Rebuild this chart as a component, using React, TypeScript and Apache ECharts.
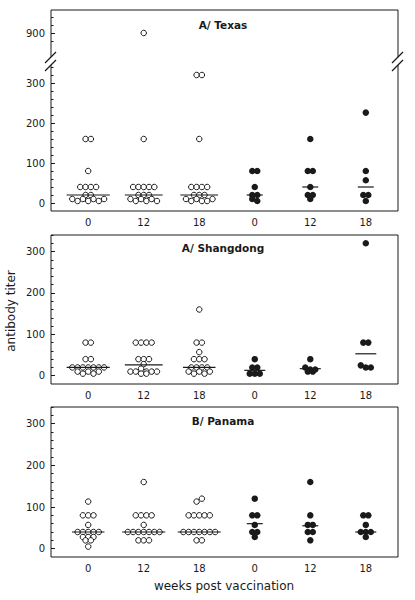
import React, { useEffect, useRef } from "react";
import * as echarts from "echarts";

// ---------- data ----------
const weekLabels = ["0", "12", "18", "0", "12", "18"];
const panelTitles = ["A/ Texas", "A/ Shangdong", "B/ Panama"];
const yTickValues = [0, 100, 200, 300];
const texasUpperTicks = [900];
const texasUpperMinor = [880, 920, 940];

// A/Texas (open = groups 0..2, filled = groups 3..5)
const texasOpen0 = [160, 160, 80, 40, 40, 40, 40, 20, 20, 10, 5, 10, 5, 10, 5, 10];
const texasOpen12 = [900, 160, 40, 40, 40, 40, 40, 20, 20, 20, 10, 5, 10, 5, 10, 5];
const texasOpen18 = [320, 320, 160, 40, 40, 40, 40, 20, 20, 20, 10, 5, 10, 5, 5, 10];
const texasFilled0 = [80, 80, 40, 20, 20, 10, 5];
const texasFilled12 = [160, 80, 80, 40, 20, 20, 10];
const texasFilled18 = [226, 80, 57, 20, 20, 5];
const texasMedians = [20, 20, 20, 20, 40, 40];

// A/Shangdong
const shanOpen0 = [80, 80, 40, 40, 20, 20, 20, 20, 20, 20, 20, 10, 5, 10, 5, 10];
const shanOpen12 = [80, 80, 80, 80, 40, 40, 40, 28, 10, 10, 5, 17, 10, 5, 10, 10];
const shanOpen18 = [160, 80, 80, 57, 40, 40, 40, 20, 20, 20, 20, 10, 5, 10, 5, 10];
const shanFilled0 = [40, 20, 20, 5, 5, 5];
const shanFilled12 = [40, 20, 15, 15, 10, 10];
const shanFilled18 = [320, 80, 80, 25, 20, 20];
const shanMedians = [20, 26, 20, 13, 17, 53];

// B/Panama
const panOpen0 = [113, 80, 80, 80, 57, 40, 40, 40, 40, 40, 28, 28, 28, 20, 20, 5];
const panOpen12 = [160, 80, 80, 80, 80, 57, 40, 40, 40, 40, 40, 40, 40, 20, 20, 20];
const panOpen18 = [113, 120, 80, 80, 80, 80, 80, 40, 40, 40, 40, 40, 40, 40, 20, 20];
const panFilled0 = [120, 80, 80, 57, 40, 40, 28];
const panFilled12 = [160, 80, 57, 57, 40, 40, 20];
const panFilled18 = [80, 80, 57, 40, 40, 40, 28];
const panMedians = [40, 40, 40, 60, 55, 40];

// ---------- layout ----------
const GRID_LEFT = 51;
const GRID_W = 347;
const X_MIN = -0.67;
const X_MAX = 5.58;
const X_PX = GRID_W / (X_MAX - X_MIN);
const FONT = "DejaVu Sans";
const INK = "#1a1a1a";

const grids = [
  { top: 10, height: 201, min: -20, max: 482.5 },
  { top: 235, height: 149, min: -20, max: 340 },
  { top: 407, height: 150, min: -20, max: 340 },
];

// broken axis for Texas: values above the break are shifted down
const BREAK_SHIFT = 475;
const tx = (v: number) => (v > 400 ? v - BREAK_SHIFT : v);

function swarm(values: number[], group: number, yPx: number, spacingPx: number, tf: (v: number) => number) {
  const idx = values.map((_, i) => i).sort((a, b) => values[b] - values[a] || a - b);
  const rows: number[][] = [];
  for (const i of idx) {
    const last = rows[rows.length - 1];
    if (last && (values[last[0]] - values[i]) * yPx < 3) last.push(i);
    else rows.push([i]);
  }
  const pts: number[][] = [];
  let widest = 1;
  rows.forEach((r) => {
    r.sort((a, b) => a - b);
    widest = Math.max(widest, r.length);
    r.forEach((i, k) => {
      pts.push([group + ((k - (r.length - 1) / 2) * spacingPx) / X_PX, tf(values[i])]);
    });
  });
  return { pts, widest };
}

const panels = [
  { open: [texasOpen0, texasOpen12, texasOpen18], filled: [texasFilled0, texasFilled12, texasFilled18], medians: texasMedians, tf: tx },
  { open: [shanOpen0, shanOpen12, shanOpen18], filled: [shanFilled0, shanFilled12, shanFilled18], medians: shanMedians, tf: (v: number) => v },
  { open: [panOpen0, panOpen12, panOpen18], filled: [panFilled0, panFilled12, panFilled18], medians: panMedians, tf: (v: number) => v },
];

const OPEN_SP = 5.3;
const FILL_SP = 5.0;

function buildOption() {
  const grid: any[] = [];
  const xAxis: any[] = [];
  const yAxis: any[] = [];
  const series: any[] = [];

  grids.forEach((g, i) => {
    grid.push({
      left: GRID_LEFT,
      top: g.top,
      width: GRID_W,
      height: g.height,
      show: true,
      borderColor: INK,
      borderWidth: 1,
      backgroundColor: "transparent",
    });
    xAxis.push({
      type: "value",
      gridIndex: i,
      position: "bottom",
      min: X_MIN,
      max: X_MAX,
      axisLine: { show: false, onZero: false },
      axisTick: { show: false },
      splitLine: { show: false },
      axisLabel: {
        customValues: [0, 1, 2, 3, 4, 5],
        formatter: (v: number) => weekLabels[Math.round(v)],
        margin: 6,
        fontSize: 10,
        fontFamily: FONT,
        color: INK,
      },
    });
    const majors = i === 0 ? [...yTickValues, ...texasUpperTicks.map(tx)] : yTickValues;
    const minors: number[] = [];
    for (let v = 20; v <= 340; v += 20) if (v % 100 !== 0) minors.push(v);
    if (i === 0) texasUpperMinor.forEach((v) => minors.push(tx(v)));
    yAxis.push({
      type: "value",
      gridIndex: i,
      position: "left",
      min: g.min,
      max: g.max,
      axisLine: { show: false, onZero: false },
      splitLine: { show: false },
      axisTick: { show: true, inside: true, length: 4, customValues: majors, lineStyle: { color: INK } },
      axisLabel: {
        customValues: majors,
        formatter: (v: number) => String(v > 400 ? v + BREAK_SHIFT : v),
        margin: 6,
        fontSize: 10,
        fontFamily: FONT,
        color: INK,
      },
    });
    yAxis.push({
      type: "value",
      gridIndex: i,
      position: "left",
      offset: 0,
      min: g.min,
      max: g.max,
      axisLine: { show: false, onZero: false },
      splitLine: { show: false },
      axisLabel: { show: false },
      axisTick: { show: true, inside: true, length: 2.5, customValues: minors, lineStyle: { color: INK } },
    });
  });

  panels.forEach((p, i) => {
    const yPx = grids[i].height / (grids[i].max - grids[i].min);
    const openPts: number[][] = [];
    const fillPts: number[][] = [];
    const medData: number[][] = [];
    p.open.forEach((vals, gi) => {
      const s = swarm(vals, gi, yPx, OPEN_SP, p.tf);
      openPts.push(...s.pts);
      const hw = Math.max(7, (s.widest * OPEN_SP) / 2 + 3) / X_PX;
      medData.push([gi, p.tf(p.medians[gi]), hw]);
    });
    p.filled.forEach((vals, k) => {
      const gi = k + 3;
      const s = swarm(vals, gi, yPx, FILL_SP, p.tf);
      fillPts.push(...s.pts);
      const hw = Math.max(7, (s.widest * FILL_SP) / 2 + 3) / X_PX;
      medData.push([gi, p.tf(p.medians[gi]), hw]);
    });
    series.push({
      type: "scatter",
      xAxisIndex: i,
      yAxisIndex: i * 2,
      data: openPts,
      symbol: "circle",
      symbolSize: 5.5,
      itemStyle: { color: "#fff", borderColor: INK, borderWidth: 1, opacity: 1 },
      z: 2,
    });
    series.push({
      type: "scatter",
      xAxisIndex: i,
      yAxisIndex: i * 2,
      data: fillPts,
      symbol: "circle",
      symbolSize: 6.5,
      itemStyle: { color: INK, opacity: 1 },
      z: 2,
    });
    series.push({
      type: "custom",
      xAxisIndex: i,
      yAxisIndex: i * 2,
      data: medData,
      z: 3,
      renderItem: (params: any, api: any) => {
        const x = api.value(0);
        const y = api.value(1);
        const hw = api.value(2);
        const a = api.coord([x - hw, y]);
        const b = api.coord([x + hw, y]);
        return {
          type: "line",
          shape: { x1: a[0], y1: a[1], x2: b[0], y2: b[1] },
          style: { stroke: INK, lineWidth: 1.2 },
        };
      },
    });
  });

  const titleYs = [24.5, 248, 421];
  const graphic: any[] = [];
  panelTitles.forEach((t, i) => {
    graphic.push({
      type: "text",
      x: 223,
      y: titleYs[i],
      z: 100,
      style: { text: t, fontSize: 10.5, fontWeight: "bold", fontFamily: FONT, fill: INK, align: "center", verticalAlign: "middle" },
    });
  });
  graphic.push({
    type: "text",
    x: 11,
    y: 311,
    rotation: Math.PI / 2,
    z: 100,
    style: { text: "antibody titer", fontSize: 12, fontFamily: FONT, fill: INK, align: "center", verticalAlign: "middle" },
  });
  graphic.push({
    type: "text",
    x: 224,
    y: 586,
    z: 100,
    style: { text: "weeks post vaccination", fontSize: 12, fontFamily: FONT, fill: INK, align: "center", verticalAlign: "middle" },
  });
  // axis break marks
  [GRID_LEFT, GRID_LEFT + GRID_W].forEach((bx) => {
    graphic.push({ type: "rect", z: 100, shape: { x: bx - 2, y: 57, width: 4, height: 8 }, style: { fill: "#fff" } });
    graphic.push({ type: "line", z: 101, shape: { x1: bx - 6, y1: 63, x2: bx + 5, y2: 52 }, style: { stroke: INK, lineWidth: 1.2 } });
    graphic.push({ type: "line", z: 101, shape: { x1: bx - 6, y1: 71, x2: bx + 5, y2: 60 }, style: { stroke: INK, lineWidth: 1.2 } });
  });

  return { animation: false, backgroundColor: "#fff", grid, xAxis, yAxis, series, graphic };
}

export default function App() {
  const ref = useRef<HTMLDivElement>(null);
  useEffect(() => {
    if (!ref.current) return;
    const chart = echarts.init(ref.current, undefined, { renderer: "svg" });
    chart.setOption(buildOption() as any);
    return () => chart.dispose();
  }, []);
  return (
    <div
      ref={ref}
      style={{ position: "absolute", left: 0, top: 0, width: 415, height: 600, background: "#fff" }}
    />
  );
}
